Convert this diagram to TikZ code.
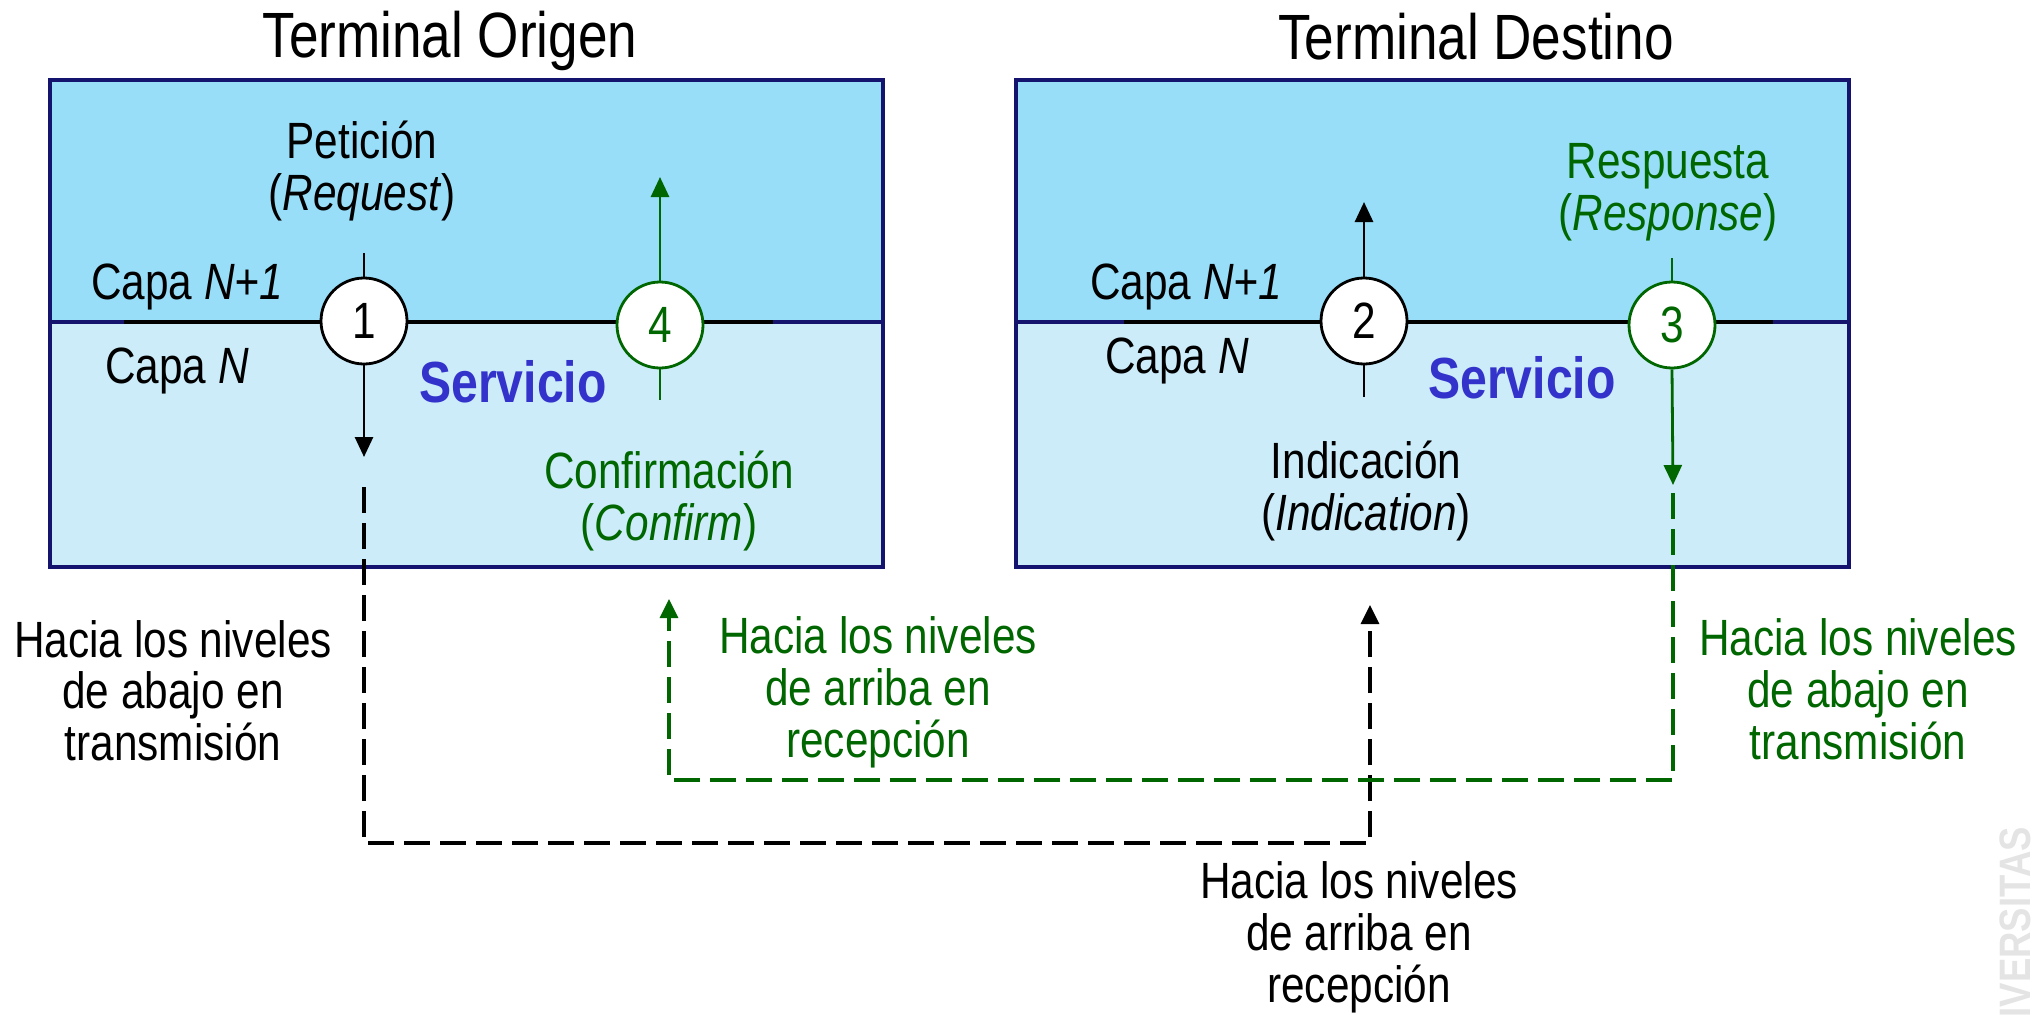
\documentclass[tikz,border=0pt]{standalone}
\usepackage{fontspec}
\setmainfont{Liberation Sans}[FakeStretch=0.83]
\usetikzlibrary{arrows.meta}
\definecolor{topblue}{RGB}{152,222,248}
\definecolor{lowblue}{RGB}{204,236,249}
\definecolor{navy}{RGB}{20,20,110}
\definecolor{dgreen}{RGB}{0,102,0}
\definecolor{servblue}{RGB}{51,51,204}
\definecolor{wmgray}{RGB}{228,228,228}
\begin{document}
\begin{tikzpicture}[x=1pt,y=-1pt,
  lbl/.style={inner sep=0pt, anchor=base, font=\fontsize{51}{52}\selectfont},
  ttl/.style={inner sep=0pt, anchor=base, font=\fontsize{64}{66}\selectfont},
  serv/.style={inner sep=0pt, anchor=base, text=servblue, font=\fontsize{58}{60}\selectfont\bfseries},
  num/.style={circle, draw, line width=2.8pt, fill=white, minimum size=86pt, inner sep=0pt, font=\fontsize{51}{52}\selectfont},
  ln/.style={line width=2.8pt},
  arr/.style={line width=2.8pt, -{Triangle[length=20pt,width=18pt]}},
  darr/.style={line width=3.2pt, dash pattern=on 26pt off 10pt, -{Triangle[length=19pt,width=18pt]}},
  boxline/.style={navy, line width=3.5pt},
]
\useasboundingbox (0,0) rectangle (2044,1014);
\clip (0,0) rectangle (2044,1014);

% watermark
\node[inner sep=0pt, rotate=90, anchor=base east, text=wmgray, font=\fontsize{44}{46}\selectfont\bfseries] (wm) at (2030,827) {UNIVERSITAS};

% left box
\fill[topblue] (50,80) rectangle (883,322);
\fill[lowblue] (50,322) rectangle (883,567);
\draw[navy, line width=3.5pt] (50,322) -- (883,322);
\draw[black, line width=3.5pt] (124,322) -- (773,322);
\draw[boxline] (50,80) rectangle (883,567);

% right box
\fill[topblue] (1016,80) rectangle (1849,322);
\fill[lowblue] (1016,322) rectangle (1849,567);
\draw[navy, line width=3.5pt] (1016,322) -- (1849,322);
\draw[black, line width=3.5pt] (1124,322) -- (1773,322);
\draw[boxline] (1016,80) rectangle (1849,567);

% titles
\node[ttl] (t1) at (450,58) {Terminal Origen};
\node[ttl] (t2) at (1476,60) {Terminal Destino};

% circles
\node[num] (c1) at (364,321) {1};
\node[num] (c2) at (1364,321) {2};
\node[num, draw=dgreen, text=dgreen] (c3) at (1672,325) {3};
\node[num, draw=dgreen, text=dgreen] (c4) at (660,325) {4};

% free ends
\coordinate (c1top) at (364,253);
\coordinate (c1tip) at (364,457);
\coordinate (d1a) at (364,487);
\coordinate (d1b) at (364,843);
\coordinate (d1c) at (1370,843);
\coordinate (d1d) at (1370,605);
\coordinate (c2tip) at (1364,202);
\coordinate (c2bot) at (1364,397);
\coordinate (c3top) at (1672,258);
\coordinate (c3tip) at (1673,485);
\coordinate (d3a) at (1673,493);
\coordinate (d3b) at (1673,780);
\coordinate (d3c) at (669,780);
\coordinate (d3d) at (669,599);
\coordinate (c4tip) at (660,177);
\coordinate (c4bot) at (660,400);

% connectors
\draw[ln] (c1top) -- (c1.north);
\draw[arr] (c1.south) -- (c1tip);
\draw[darr] (d1a) -- (d1b) -- (d1c) -- (d1d);
\draw[arr] (c2.north) -- (c2tip);
\draw[ln] (c2.south) -- (c2bot);
\draw[ln, dgreen] (c3top) -- (c3.north);
\draw[arr, dgreen] (c3.south) -- (c3tip);
\draw[darr, dgreen] (d3a) -- (d3b) -- (d3c) -- (d3d);
\draw[arr, dgreen] (c4.north) -- (c4tip);
\draw[ln, dgreen] (c4.south) -- (c4bot);

% labels left
\node[lbl] (pet1) at (362,158) {Petición};
\node[lbl] (pet2) at (362,210) {(\textit{Request})};
\node[lbl] (cnl1) at (187,299) {Capa \textit{N+1}};
\node[lbl] (cnl2) at (177,383) {Capa \textit{N}};
\node[serv] (servl) at (513,402) {Servicio};
\node[lbl, text=dgreen] (conf1) at (669,488) {Confirmación};
\node[lbl, text=dgreen] (conf2) at (669,540) {(\textit{Confirm})};

% labels right
\node[lbl] (cnr1) at (1186,299) {Capa \textit{N+1}};
\node[lbl] (cnr2) at (1177,373) {Capa \textit{N}};
\node[serv] (servr) at (1522,398) {Servicio};
\node[lbl] (ind1) at (1366,478) {Indicación};
\node[lbl] (ind2) at (1366,530) {(\textit{Indication})};
\node[lbl, text=dgreen] (resp1) at (1668,178) {Respuesta};
\node[lbl, text=dgreen] (resp2) at (1668,230) {(\textit{Response})};

% bottom labels
\node[lbl] (bl1) at (173,657) {Hacia los niveles};
\node[lbl] (bl2) at (173,708) {de abajo en};
\node[lbl] (bl3) at (173,760) {transmisión};

\node[lbl, text=dgreen] (gm1) at (878,653) {Hacia los niveles};
\node[lbl, text=dgreen] (gm2) at (878,705) {de arriba en};
\node[lbl, text=dgreen] (gm3) at (878,757) {recepción};

\node[lbl, text=dgreen] (gr1) at (1858,655) {Hacia los niveles};
\node[lbl, text=dgreen] (gr2) at (1858,707) {de abajo en};
\node[lbl, text=dgreen] (gr3) at (1858,759) {transmisión};

\node[lbl] (bb1) at (1359,898) {Hacia los niveles};
\node[lbl] (bb2) at (1359,950) {de arriba en};
\node[lbl] (bb3) at (1359,1002) {recepción};
\end{tikzpicture}
\end{document}
